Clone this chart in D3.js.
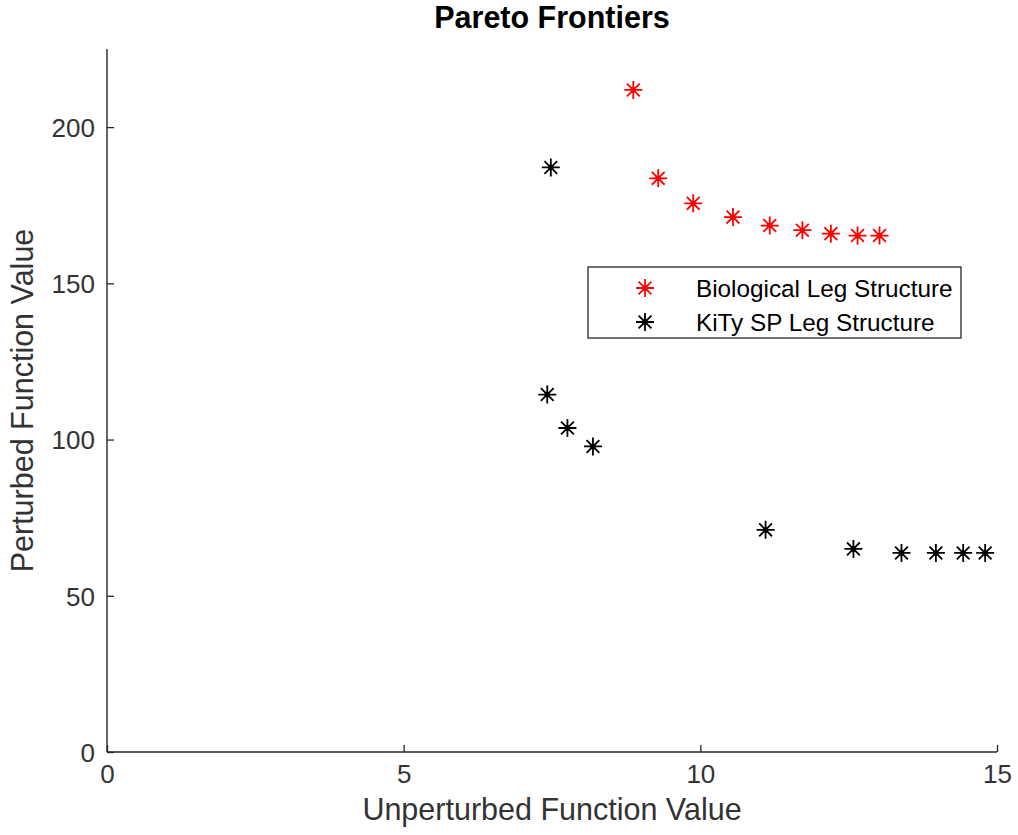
<!DOCTYPE html>
<meta charset="utf-8">
<style>
  body { margin: 0; background: #fff; }
  text { font-family: "Liberation Sans", Arial, Helvetica, sans-serif; fill: #333; }
</style>
<svg width="1018" height="835"></svg>
<script src="https://cdn.jsdelivr.net/npm/d3@7"></script>
<script>
  // Pareto frontier points
  var bioX = [8.87, 9.29, 9.88, 10.55, 11.17, 11.72, 12.20, 12.65, 13.02];
  var bioY = [211.9, 183.6, 175.6, 171.2, 168.5, 167.0, 165.9, 165.3, 165.3];
  var kityX = [7.48, 7.42, 7.76, 8.19, 11.10, 12.58, 13.39, 13.97, 14.43, 14.80];
  var kityY = [187.1, 114.4, 103.7, 97.8, 71.1, 65.0, 63.7, 63.7, 63.7, 63.7];

  var xTicks = [0, 5, 10, 15];
  var yTicks = [0, 50, 100, 150, 200];
  var seriesNames = ["Biological Leg Structure", "KiTy SP Leg Structure"];
  var seriesColors = ["#ff0000", "#000000"];

  var svg = d3.select("svg"),
    margin = { top: 49, right: 21, bottom: 83, left: 107 },
    width = 1018 - margin.left - margin.right,
    height = 835 - margin.top - margin.bottom,
    g = svg.append("g").attr("transform", "translate(" + margin.left + "," + margin.top + ")");

  var x = d3.scaleLinear().domain([0, 15]).range([0, width]);
  var y = d3.scaleLinear().domain([0, 225]).range([height, 0]);

  var axisColor = "#262626";
  var textColor = "#3a3a3a";

  // x axis (ticks pointing inward)
  var xAxis = g.append("g")
    .attr("transform", "translate(0," + height + ")")
    .call(d3.axisBottom(x).tickValues(xTicks).tickSize(-7).tickPadding(13).tickFormat(d3.format("d")));
  xAxis.select(".domain").attr("d", "M0,0H" + width);

  // y axis
  var yAxis = g.append("g")
    .call(d3.axisLeft(y).tickValues(yTicks).tickSize(-7).tickPadding(12).tickFormat(d3.format("d")));
  yAxis.select(".domain").attr("d", "M0," + height + "V0");

  g.selectAll(".domain").attr("stroke", axisColor).attr("stroke-width", 1.4);
  g.selectAll(".tick line").attr("stroke", axisColor).attr("stroke-width", 1.3);
  g.selectAll(".tick text")
    .attr("fill", textColor)
    .style("font-size", "26px")
    .style("font-family", "'Liberation Sans', Arial, sans-serif");
  xAxis.selectAll(".tick text").attr("dy", "0.71em");
  yAxis.selectAll(".tick text").attr("dy", "0.36em");

  // axis labels and title
  svg.append("text")
    .attr("x", margin.left + width / 2)
    .attr("y", 820)
    .attr("text-anchor", "middle")
    .style("font-size", "30.5px")
    .text("Unperturbed Function Value");

  svg.append("text")
    .attr("transform", "translate(33," + (margin.top + height / 2) + ") rotate(-90)")
    .attr("text-anchor", "middle")
    .style("font-size", "30.5px")
    .text("Perturbed Function Value");

  svg.append("text")
    .attr("x", margin.left + width / 2)
    .attr("y", 28)
    .attr("text-anchor", "middle")
    .style("font-size", "30.5px")
    .style("font-weight", "bold")
    .style("fill", "#000")
    .text("Pareto Frontiers");

  // asterisk marker like matlab '*'
  function asterisk(sel, color) {
    var a = 9, b = 6.4;
    sel.append("path")
      .attr("d", "M" + -a + ",0H" + a + "M0," + -a + "V" + a +
        "M" + -b + "," + -b + "L" + b + "," + b + "M" + -b + "," + b + "L" + b + "," + -b)
      .attr("stroke", color)
      .attr("stroke-width", 1.8)
      .attr("fill", "none");
    sel.append("circle").attr("r", 2.8).attr("fill", color);
  }

  function plotSeries(xs, ys, color) {
    var pts = xs.map(function (d, i) { return [d, ys[i]]; });
    g.selectAll(null)
      .data(pts)
      .enter().append("g")
      .attr("transform", function (d) { return "translate(" + x(d[0]) + "," + y(d[1]) + ")"; })
      .each(function () { asterisk(d3.select(this), color); });
  }

  plotSeries(bioX, bioY, seriesColors[0]);
  plotSeries(kityX, kityY, seriesColors[1]);

  // legend
  var legend = svg.append("g").attr("transform", "translate(588,267)");
  legend.append("rect")
    .attr("width", 373).attr("height", 71)
    .attr("fill", "#fff")
    .attr("stroke", axisColor)
    .attr("stroke-width", 1.3);

  seriesNames.forEach(function (name, i) {
    var row = legend.append("g").attr("transform", "translate(0," + (21 + i * 34) + ")");
    var m = row.append("g").attr("transform", "translate(57,0)");
    asterisk(m, seriesColors[i]);
    row.append("text")
      .attr("x", 108)
      .attr("dy", "0.36em")
      .style("font-size", "24.3px")
      .style("fill", "#000")
      .text(name);
  });
</script>
